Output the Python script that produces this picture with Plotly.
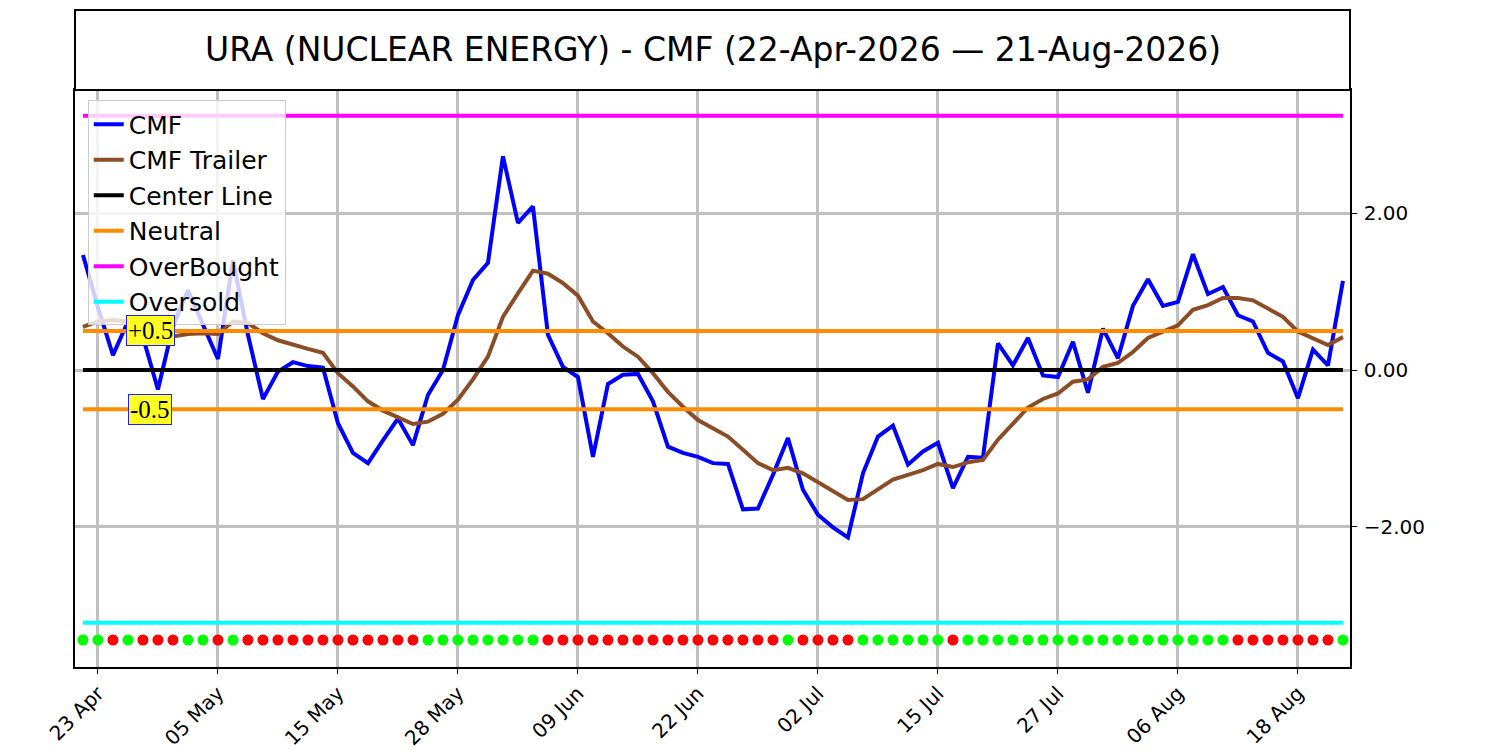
import pandas as pd
import plotly.graph_objects as go

# trading days 22-Apr-2026 .. 21-Aug-2026 (US market holidays removed)
holidays = ["2026-05-25", "2026-06-19", "2026-07-03"]
dates = pd.bdate_range("2026-04-22", "2026-08-21", freq="C", holidays=holidays)
x = dates.strftime("%Y-%m-%d").tolist()

cmf = [1.47, 0.80, 0.19, 0.62, 0.42, -0.25, 0.56, 1.02, 0.58, 0.14,
       1.40, 0.45, -0.37, -0.02, 0.10, 0.05, 0.03, -0.68, -1.06, -1.19,
       -0.90, -0.62, -0.96, -0.32, 0.00, 0.70, 1.15, 1.37, 2.73, 1.88,
       2.09, 0.45, 0.04, -0.09, -1.11, -0.18, -0.06, -0.05, -0.40, -0.98,
       -1.06, -1.11, -1.19, -1.20, -1.78, -1.77, -1.34, -0.87, -1.53, -1.85,
       -2.01, -2.14, -1.32, -0.85, -0.71, -1.21, -1.04, -0.93, -1.51, -1.11,
       -1.12, 0.34, 0.06, 0.41, -0.07, -0.09, 0.36, -0.29, 0.53, 0.15,
       0.82, 1.16, 0.82, 0.87, 1.48, 0.97, 1.06, 0.70, 0.62, 0.22,
       0.11, -0.36, 0.26, 0.06, 1.14]

cmf_trailer = [0.55, 0.62, 0.64, 0.62, 0.60, 0.50, 0.43, 0.46, 0.47, 0.46,
               0.62, 0.60, 0.47, 0.38, 0.32, 0.27, 0.22, -0.04, -0.21, -0.40,
               -0.52, -0.60, -0.69, -0.66, -0.56, -0.38, -0.12, 0.17, 0.68, 0.98,
               1.27, 1.23, 1.11, 0.95, 0.62, 0.47, 0.30, 0.17, -0.04, -0.28,
               -0.47, -0.64, -0.74, -0.85, -1.02, -1.19, -1.28, -1.25, -1.32, -1.43,
               -1.54, -1.66, -1.65, -1.53, -1.40, -1.34, -1.28, -1.20, -1.24, -1.18,
               -1.15, -0.89, -0.68, -0.48, -0.37, -0.30, -0.15, -0.12, 0.04, 0.09,
               0.23, 0.41, 0.49, 0.57, 0.77, 0.83, 0.92, 0.92, 0.89, 0.79,
               0.68, 0.49, 0.41, 0.32, 0.42]

# 1 = green dot, 0 = red dot
signal = [1, 1, 0, 1, 0, 0, 0, 1, 1, 0, 1, 0, 0, 0, 0, 0, 0, 0, 0, 0,
          0, 0, 0, 1, 1, 1, 1, 1, 1, 1, 1, 0, 0, 0, 0, 0, 0, 0, 0, 0,
          0, 0, 0, 0, 0, 0, 0, 1, 0, 0, 0, 0, 1, 1, 1, 1, 1, 1, 0, 1,
          1, 1, 1, 1, 1, 1, 1, 1, 1, 1, 1, 1, 1, 1, 1, 1, 1, 0, 0, 0,
          0, 0, 0, 0, 1]

center_level = 0.0
neutral_levels = [0.5, -0.5]
overbought = 3.25
oversold = -3.23
dot_level = -3.45

tick_dates = x[1::8]
tick_labels = dates[1::8].strftime("%d %b").tolist()

title = "URA (NUCLEAR ENERGY) - CMF (22-Apr-2026 \u2014 21-Aug-2026)"

ends = [x[0], x[-1]]
fig = go.Figure()
fig.add_trace(go.Scatter(x=x, y=cmf, mode="lines", name="CMF",
                         line=dict(color="#0000ff", width=4)))
fig.add_trace(go.Scatter(x=x, y=cmf_trailer, mode="lines", name="CMF Trailer",
                         line=dict(color="#8B4C26", width=4)))
fig.add_trace(go.Scatter(x=ends, y=[center_level] * 2, mode="lines", name="Center Line",
                         line=dict(color="black", width=4)))
for i, lvl in enumerate(neutral_levels):
    fig.add_trace(go.Scatter(x=ends, y=[lvl] * 2, mode="lines", name="Neutral",
                             showlegend=(i == 0), legendgroup="neutral",
                             line=dict(color="#ff8c00", width=4)))
fig.add_trace(go.Scatter(x=ends, y=[overbought] * 2, mode="lines", name="OverBought",
                         line=dict(color="#ff00ff", width=4)))
fig.add_trace(go.Scatter(x=ends, y=[oversold] * 2, mode="lines", name="Oversold",
                         line=dict(color="#00ffff", width=4)))
fig.add_trace(go.Scatter(x=x, y=[dot_level] * len(x), mode="markers", showlegend=False,
                         marker=dict(size=11, color=["#00ff00" if s else "#ff0000" for s in signal])))

# +0.5 / -0.5 labels
for lvl in neutral_levels:
    fig.add_annotation(x=4.5, y=lvl, xref="x", yref="y", showarrow=False,
                       text=f"{lvl:+.1f}", bgcolor="#ffff22", bordercolor="#2020ff",
                       borderwidth=1, borderpad=1,
                       font=dict(family="Liberation Serif", size=25, color="black"))

# title box above the plot
fig.add_shape(type="rect", xref="paper", yref="paper", x0=0, x1=1, y0=1, y1=1 + 80 / 577,
              line=dict(color="black", width=2), fillcolor="white")
fig.add_annotation(xref="paper", yref="paper", x=0.5, y=1 + 40 / 577, showarrow=False,
                   xanchor="center", yanchor="middle",
                   text=title, font=dict(size=33, color="black"))

axis_common = dict(showline=True, linecolor="black", linewidth=1.5, mirror=True,
                   showgrid=True, gridcolor="#c0c0c0", gridwidth=3, zeroline=False,
                   ticks="outside", ticklen=5, tickcolor="black", automargin=False,
                   tickfont=dict(size=20, color="black"))

fig.update_layout(
    width=1500, height=750,
    margin=dict(l=67, r=158, t=82, b=91),
    paper_bgcolor="white", plot_bgcolor="white",
    font=dict(family="DejaVu Sans", color="black"),
    xaxis=dict(type="category", range=[-0.53, 84.47], tickmode="array",
               tickvals=tick_dates, ticktext=tick_labels, tickangle=-45, **axis_common),
    yaxis=dict(side="right", range=[-3.795, 3.578], tickvals=[-2, 0, 2],
               tickformat=".2f", ticklabelstandoff=3, **axis_common),
    legend=dict(x=0.01, y=0.982, xanchor="left", yanchor="top",
                bgcolor="rgba(255,255,255,0.8)", bordercolor="#cccccc", borderwidth=1,
                font=dict(size=25), tracegroupgap=0),
    showlegend=True,
)

fig.write_html("out.html")
